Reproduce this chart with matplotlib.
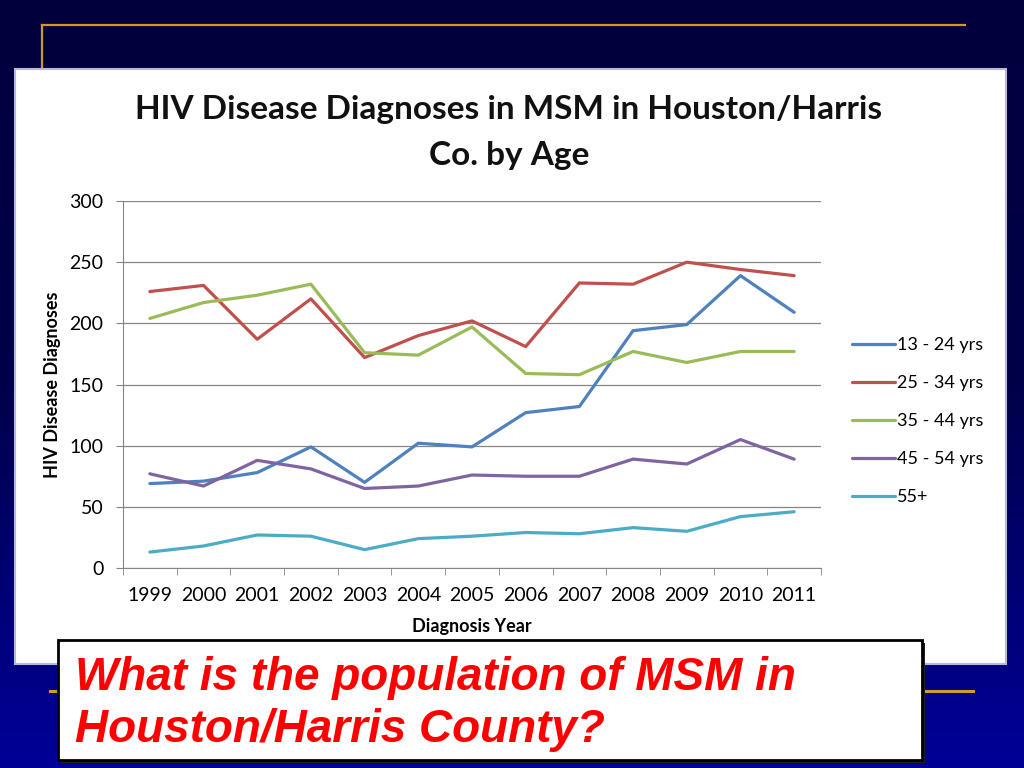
import numpy as np
import matplotlib
matplotlib.use("Agg")
import matplotlib.pyplot as plt
from matplotlib import patches as mpatches

years = ["1999", "2000", "2001", "2002", "2003", "2004", "2005",
         "2006", "2007", "2008", "2009", "2010", "2011"]
age_13_24 = [69, 71, 78, 99, 70, 102, 99, 127, 132, 194, 199, 239, 209]
age_25_34 = [226, 231, 187, 220, 172, 190, 202, 181, 233, 232, 250, 244, 239]
age_35_44 = [204, 217, 223, 232, 176, 174, 197, 159, 158, 177, 168, 177, 177]
age_45_54 = [77, 67, 88, 81, 65, 67, 76, 75, 75, 89, 85, 105, 89]
age_55_up = [13, 18, 27, 26, 15, 24, 26, 29, 28, 33, 30, 42, 46]
series_labels = ["13 - 24 yrs", "25 - 34 yrs", "35 - 44 yrs", "45 - 54 yrs", "55+"]
series_colors = ["#4F81BD", "#C0504D", "#9BBB59", "#8064A2", "#4BACC6"]

W, H = 1024, 768
fig = plt.figure(figsize=(W / 100, H / 100), dpi=100)

# slide background, drawn in pixel coordinates
bg = fig.add_axes([0, 0, 1, 1])
bg.set_xlim(0, W)
bg.set_ylim(H, 0)
bg.axis("off")
grad = np.linspace(0, 1, 256)[:, None]
cmap = matplotlib.colors.LinearSegmentedColormap.from_list("slide", ["#00003c", "#00004a", "#000098"])
bg.imshow(grad, cmap=cmap, extent=[0, W, H, 0], aspect="auto", zorder=0)

gold = "#D09A28"
bg.plot([42, 965], [25, 25], color=gold, lw=1.6, zorder=1)
bg.plot([42, 42], [25, 70], color=gold, lw=1.6, zorder=1)
bg.plot([50, 973], [691, 691], color=gold, lw=2.2, zorder=1)

bg.add_patch(mpatches.Rectangle((15, 69), 991, 595, facecolor="white",
                                edgecolor="#B8B8D8", lw=1.5, zorder=2))

bg.text(509, 110, "HIV Disease Diagnoses in MSM in Houston/Harris", ha="center", va="center",
        fontsize=24, fontweight="bold", family="Lato", color="#111111", zorder=3)
bg.text(509, 155, "Co. by Age", ha="center", va="center",
        fontsize=24, fontweight="bold", family="Lato", color="#111111", zorder=3)

# chart area
ax = fig.add_axes([123 / W, 1 - 568 / H, 698 / W, 367 / H])
ax.set_zorder(5)
ax.patch.set_alpha(0)
x = np.arange(len(years))
for vals, lab, col in zip([age_13_24, age_25_34, age_35_44, age_45_54, age_55_up],
                          series_labels, series_colors):
    ax.plot(x, vals, color=col, lw=2.3, label=lab, solid_capstyle="round")

ax.set_xlim(-0.5, len(years) - 0.5)
ax.set_ylim(0, 300)
ax.set_yticks(range(0, 301, 50))
ax.set_xticks(x)
ax.set_xticklabels(years)
ax.set_xticks(np.arange(-0.5, len(years)), minor=True)
ax.tick_params(axis="x", which="major", length=0, pad=14)
ax.tick_params(axis="x", which="minor", length=5, color="#868686", direction="out")
ax.tick_params(axis="y", length=5, color="#868686", pad=9)
for lbl in ax.get_xticklabels() + ax.get_yticklabels():
    lbl.set_family("Lato")
    lbl.set_fontsize(14)
ax.grid(axis="y", color="#868686", lw=0.9)
ax.set_axisbelow(True)
for s in ["top", "right"]:
    ax.spines[s].set_visible(False)
for s in ["left", "bottom"]:
    ax.spines[s].set_color("#868686")
ax.set_ylabel("HIV Disease Diagnoses", family="Lato", fontweight="bold", fontsize=13, labelpad=6)
ax.set_xlabel("Diagnosis Year", family="Lato", fontweight="bold", fontsize=13, labelpad=10)

ax.legend(loc="center left", bbox_to_anchor=(1.021, 0.40), frameon=False,
          prop={"family": "Lato", "size": 13}, handlelength=2.4,
          handletextpad=0.1, labelspacing=1.22)

# question box
bg.add_patch(mpatches.Rectangle((61, 643), 864, 120, facecolor="#202020", lw=0, zorder=6))
bg.add_patch(mpatches.Rectangle((58, 640), 864, 120, facecolor="white",
                                edgecolor="black", lw=2, zorder=7))
bg.text(75, 678, "What is the population of MSM in", ha="left", va="center",
        fontsize=33, fontweight="bold", style="italic", color="#FF0000",
        family=["Liberation Sans Narrow", "Liberation Sans"], zorder=8)
bg.text(75, 730, "Houston/Harris County?", ha="left", va="center",
        fontsize=33, fontweight="bold", style="italic", color="#FF0000",
        family=["Liberation Sans Narrow", "Liberation Sans"], zorder=8)

fig.savefig("out.png", dpi=100)
